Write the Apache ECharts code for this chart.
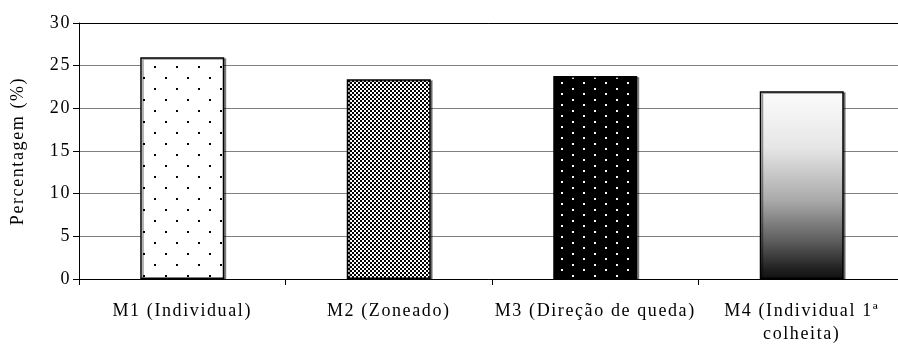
<!DOCTYPE html>
<html><head><meta charset="utf-8">
<script src="https://cdn.jsdelivr.net/npm/echarts@6/dist/echarts.min.js"></script>
<style>html,body{margin:0;padding:0;background:#fff}#c{width:898px;height:346px}</style>
</head><body><div id="c"></div>
<script>
const categories = ['M1 (Individual)', 'M2 (Zoneado)', 'M3 (Direção de queda)', 'M4 (Individual 1ª colheita)'];
const values = [26.0, 23.4, 23.8, 22.0];
const yMin = 0, yMax = 30, yStep = 5;
const yAxisTitle = 'Percentagem (%)';

// wider letter spacing, as in the original rendering
(function () {
  const P = CanvasRenderingContext2D.prototype, orig = P.fillText;
  P.fillText = function () {
    const prev = this.letterSpacing;
    this.letterSpacing = '1.6px';
    const r = orig.apply(this, arguments);
    this.letterSpacing = prev;
    return r;
  };
})();

function tile(w, h, bg, fg, dots) {
  const c = document.createElement('canvas');
  c.width = w; c.height = h;
  const g = c.getContext('2d');
  g.fillStyle = bg; g.fillRect(0, 0, w, h);
  g.fillStyle = fg;
  dots.forEach(d => g.fillRect(d[0], d[1], d[2], d[3]));
  return c;
}
const pats = [
  {image: tile(22, 22, '#ffffff', '#000000', [[0,0,2,2],[11,11,2,2]]), repeat: 'repeat'},
  {image: tile(4, 4, '#ffffff', '#000000', [[0,0,2,2],[2,2,2,2]]), repeat: 'repeat'},
  {image: tile(22, 11, '#000000', '#ffffff', [[0,0,2,2],[11,5,2,2]]), repeat: 'repeat'},
  {type: 'linear', x: 0, y: 0, x2: 0, y2: 1, colorStops: [
    {offset: 0, color: '#fcfcfc'}, {offset: 0.3, color: '#e6e6e6'}, {offset: 0.58, color: '#aaaaaa'},
    {offset: 0.79, color: '#606060'}, {offset: 0.95, color: '#202020'}, {offset: 1, color: '#111111'}]}
];

const font = "'Liberation Serif', 'Times New Roman', serif";
const chart = echarts.init(document.getElementById('c'), null, {renderer: 'canvas'});
chart.setOption({
  animation: false,
  backgroundColor: '#ffffff',
  grid: {left: 79, top: 23, width: 826, height: 256, containLabel: false, outerBoundsMode: 'none'},
  xAxis: [{
    type: 'category', data: categories, boundaryGap: true,
    axisLine: {lineStyle: {color: '#000', width: 1}},
    axisTick: {show: true, length: 6, alignWithLabel: false, lineStyle: {color: '#000'}},
    axisLabel: {interval: 0, margin: 21, color: '#000', fontFamily: font, fontSize: 18, lineHeight: 23,
      formatter: v => v.replace(' colheita', '\ncolheita')},
    splitLine: {show: false}
  }, {
    type: 'category', data: categories, position: 'top',
    axisLine: {lineStyle: {color: '#000', width: 1}},
    axisTick: {show: false}, axisLabel: {show: false}, splitLine: {show: false}
  }],
  yAxis: {
    type: 'value', min: yMin, max: yMax, interval: yStep,
    name: yAxisTitle, nameLocation: 'middle', nameGap: 52,
    nameTextStyle: {color: '#000', fontFamily: font, fontSize: 18},
    axisLine: {show: true, lineStyle: {color: '#000', width: 1}},
    axisTick: {show: true, length: 6, lineStyle: {color: '#000'}},
    axisLabel: {margin: 8, color: '#000', fontFamily: font, fontSize: 18},
    splitLine: {show: true, lineStyle: {color: '#808080', width: 1}}
  },
  series: [{
    type: 'bar', barWidth: 84, xAxisIndex: 0,
    data: values.map((v, i) => ({value: v, itemStyle: {color: pats[i]}})),
    itemStyle: {borderColor: '#000', borderWidth: 1.5,
      shadowColor: 'rgba(0,0,0,0.4)', shadowOffsetX: 2, shadowOffsetY: 1, shadowBlur: 0}
  }]
});
</script>
</body></html>
